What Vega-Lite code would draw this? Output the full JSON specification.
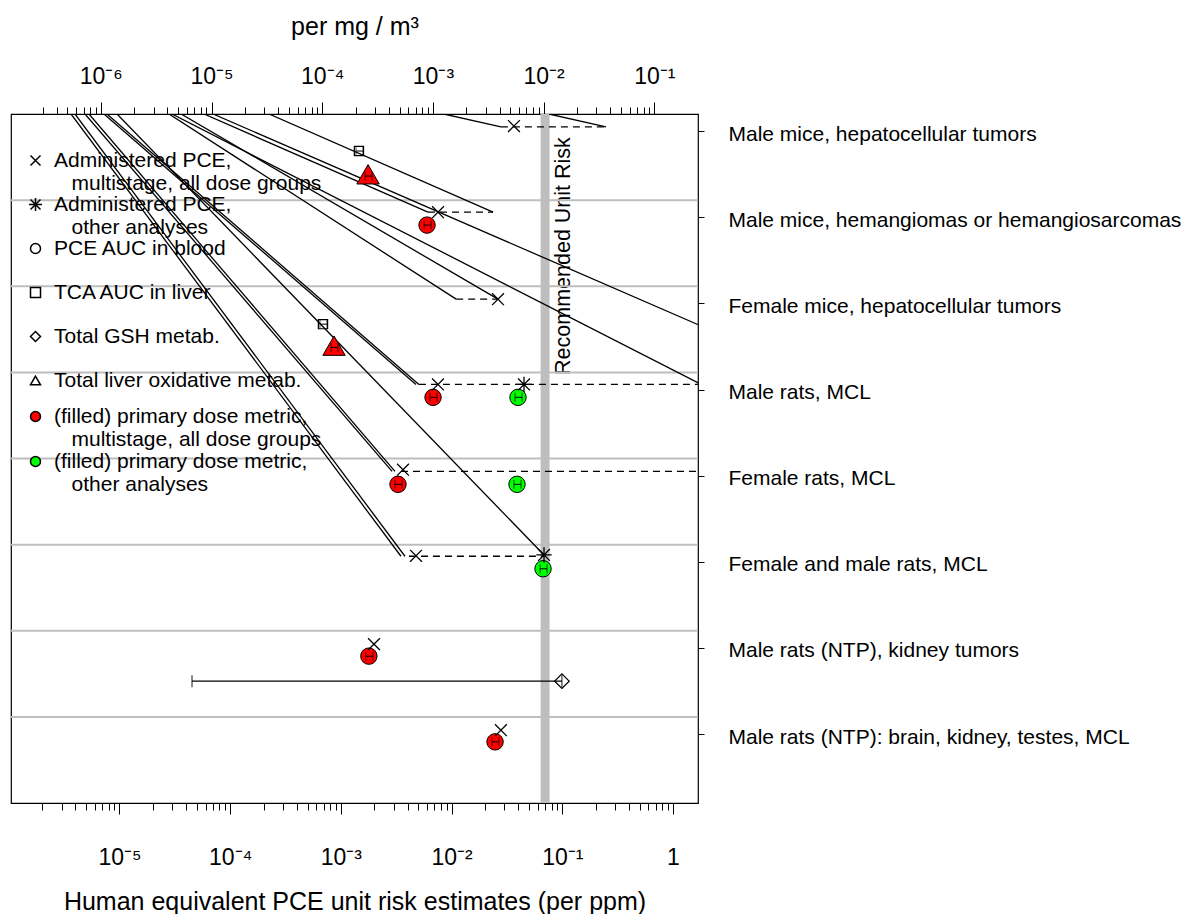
{
  "$schema": "https://vega.github.io/schema/vega-lite/v6.json",
  "width": 687,
  "height": 689,
  "padding": {"left": 10, "top": 14, "right": 0, "bottom": 0},
  "background": "white",
  "config": {
    "view": {"stroke": "black", "strokeWidth": 1.2},
    "font": "Liberation Sans",
    "axis": {"labelFont": "Liberation Sans", "titleFont": "Liberation Sans", "labelColor": "black", "titleColor": "black", "tickColor": "black", "tickWidth": 1, "domain": false, "grid": false, "titleFontWeight": "normal", "labelLimit": 600},
    "legend": {"labelFont": "Liberation Sans", "labelFontSize": 21, "labelColor": "black", "labelLimit": 500, "padding": 0, "titlePadding": 0}
  },
  "datasets": {
    "grid": [{"r": 1}, {"r": 2}, {"r": 3}, {"r": 4}, {"r": 5}, {"r": 6}, {"r": 7}],
    "ur": [{"ur": 0.0103, "label": "Recommended Unit Risk"}],
    "conn": [
      {"id": "c1", "v": 0.00853, "r": 0}, {"id": "c1", "v": 0.0279, "r": 0.15},
      {"id": "c2", "v": 0.0759, "r": 0}, {"id": "c2", "v": 0.248, "r": 0.15},
      {"id": "c3", "v": 0.000224, "r": 0}, {"id": "c3", "v": 0.0237, "r": 1.14},
      {"id": "c4", "v": 0.000058, "r": 0}, {"id": "c4", "v": 0.00612, "r": 1.14},
      {"id": "c5", "v": 0.00007, "r": 0}, {"id": "c5", "v": 1900, "r": 4.15},
      {"id": "c6", "v": 0.0000298, "r": 0}, {"id": "c6", "v": 1.8, "r": 3.14},
      {"id": "c7", "v": 0.000028, "r": 0}, {"id": "c7", "v": 0.011, "r": 2.15},
      {"id": "c8", "v": 0.000036, "r": 0}, {"id": "c8", "v": 0.02626, "r": 2.15},
      {"id": "l1a", "v": 0.00000365, "r": 0}, {"id": "l1a", "v": 0.00349, "r": 5.135},
      {"id": "l1b", "v": 0.00000396, "r": 0}, {"id": "l1b", "v": 0.00379, "r": 5.135},
      {"id": "l2a", "v": 0.00000488, "r": 0}, {"id": "l2a", "v": 0.0029, "r": 4.15},
      {"id": "l2b", "v": 0.0000053, "r": 0}, {"id": "l2b", "v": 0.00308, "r": 4.15},
      {"id": "l3a", "v": 0.00000724, "r": 0}, {"id": "l3a", "v": 0.00477, "r": 3.14},
      {"id": "l3b", "v": 0.0000077, "r": 0}, {"id": "l3b", "v": 0.00507, "r": 3.14},
      {"id": "l4", "v": 0.0000095, "r": 0}, {"id": "l4", "v": 0.0684, "r": 5.12}
    ],
    "dashed": [
      {"lo": 0.0279, "hi": 0.248, "r": 0.15},
      {"lo": 0.00612, "hi": 0.0237, "r": 1.14},
      {"lo": 0.011, "hi": 0.0263, "r": 2.15},
      {"lo": 0.00507, "hi": 1.8, "r": 3.14},
      {"lo": 0.00349, "hi": 1900, "r": 4.15},
      {"lo": 0.00412, "hi": 0.0684, "r": 5.135}
    ],
    "errbar": [{"lo": 0.0000452, "hi": 0.0993, "r": 6.585}],
    "ci": [
      {"lo": 0.001368, "hi": 0.001583, "r": 0.43},
      {"lo": 0.001654, "hi": 0.001913, "r": 0.72},
      {"lo": 0.00564, "hi": 0.00652, "r": 1.29},
      {"lo": 0.000647, "hi": 0.000749, "r": 2.44},
      {"lo": 0.000815, "hi": 0.000942, "r": 2.71},
      {"lo": 0.00639, "hi": 0.00739, "r": 3.29},
      {"lo": 0.0374, "hi": 0.0433, "r": 3.29},
      {"lo": 0.00308, "hi": 0.00357, "r": 4.30},
      {"lo": 0.0366, "hi": 0.0424, "r": 4.30},
      {"lo": 0.063, "hi": 0.0728, "r": 5.28},
      {"lo": 0.00168, "hi": 0.00195, "r": 6.295},
      {"lo": 0.0232, "hi": 0.0268, "r": 7.29}
    ],
    "squares": [
      {"v": 0.001456, "r": 0.43, "metric": "liver"},
      {"v": 0.000689, "r": 2.44, "metric": "liver"}
    ],
    "diamonds": [
      {"v": 0.0993, "r": 6.585, "metric": "gsh"}
    ],
    "circles": [
      {"v": 0.006, "r": 1.29, "metric": "blood", "analysis": "ms"},
      {"v": 0.0068, "r": 3.29, "metric": "blood", "analysis": "ms"},
      {"v": 0.0398, "r": 3.29, "metric": "blood", "analysis": "other"},
      {"v": 0.00328, "r": 4.30, "metric": "blood", "analysis": "ms"},
      {"v": 0.039, "r": 4.30, "metric": "blood", "analysis": "other"},
      {"v": 0.067, "r": 5.28, "metric": "blood", "analysis": "other"},
      {"v": 0.00179, "r": 6.295, "metric": "blood", "analysis": "ms"},
      {"v": 0.0247, "r": 7.29, "metric": "blood", "analysis": "ms"}
    ],
    "triangles": [
      {"v": 0.00176, "r": 0.70, "metric": "oxid", "analysis": "ms"},
      {"v": 0.000867, "r": 2.69, "metric": "oxid", "analysis": "ms"}
    ],
    "admin": [
      {"v": 0.0366, "r": 0.14, "metric": "ms"},
      {"v": 0.00754, "r": 1.14, "metric": "ms"},
      {"v": 0.02626, "r": 2.15, "metric": "ms"},
      {"v": 0.00754, "r": 3.14, "metric": "ms"},
      {"v": 0.00364, "r": 4.13, "metric": "ms"},
      {"v": 0.00477, "r": 5.13, "metric": "ms"},
      {"v": 0.00199, "r": 6.155, "metric": "ms"},
      {"v": 0.0279, "r": 7.155, "metric": "ms"},
      {"v": 0.0451, "r": 3.14, "metric": "oth"},
      {"v": 0.0684, "r": 5.12, "metric": "oth"}
    ]
  },
  "layer": [
    {
      "layer": [
        {
          "data": {"name": "ur"},
          "mark": {"type": "rule", "color": "#BEBEBE", "strokeWidth": 9},
          "encoding": {
            "x": {"field": "ur", "type": "quantitative",
              "scale": {"type": "log", "domain": [1.544e-7, 0.2479], "nice": false},
              "axis": {
                "orient": "top",
                "values": [3e-7,4e-7,5e-7,6e-7,7e-7,8e-7,9e-7,1e-6,2e-6,3e-6,4e-6,5e-6,6e-6,7e-6,8e-6,9e-6,1e-5,2e-5,3e-5,4e-5,5e-5,6e-5,7e-5,8e-5,9e-5,1e-4,2e-4,3e-4,4e-4,5e-4,6e-4,7e-4,8e-4,9e-4,1e-3,2e-3,3e-3,4e-3,5e-3,6e-3,7e-3,8e-3,9e-3,1e-2,2e-2,3e-2,4e-2,5e-2,6e-2,7e-2,8e-2,9e-2,1e-1],
                "labelExpr": "abs(log(datum.value)/LN10 - round(log(datum.value)/LN10)) > 0.001 ? '' : (round(log(datum.value)/LN10) == 0 ? '1' : '10⁻' + ['⁰','¹','²','³','⁴','⁵','⁶','⁷','⁸'][-round(log(datum.value)/LN10)])",
                "tickSize": {"condition": {"test": "abs(log(datum.value)/LN10 - round(log(datum.value)/LN10)) < 0.001", "value": 12}, "value": 7},
                "labelFontSize": 23,
                "labelPadding": 14,
                "labelOverlap": false,
                "labelFlush": false,
                "title": "per mg / m³",
                "titleFontSize": 25,
                "titlePadding": 26
              }
            }
          }
        },
        {
          "data": {"name": "ur"},
          "mark": {"type": "text", "angle": 270, "align": "left", "baseline": "top", "dy": 8, "fontSize": 21.5, "font": "Liberation Sans", "color": "black"},
          "encoding": {
            "x": {"field": "ur", "type": "quantitative"},
            "y": {"datum": 3.03, "type": "quantitative", "scale": {"domain": [0, 8], "reverse": true, "nice": false, "zero": false}},
            "text": {"field": "label"}
          }
        }
      ]
    },
    {
      "layer": [
        {
          "data": {"name": "grid"},
          "mark": {"type": "rule", "color": "#BEBEBE", "strokeWidth": 2},
          "encoding": {
            "y": {"field": "r", "type": "quantitative",
              "scale": {"domain": [0, 8], "reverse": true, "nice": false, "zero": false},
              "axis": {
                "orient": "right",
                "values": [0.2, 1.2, 2.2, 3.2, 4.2, 5.2, 6.2, 7.2],
                "labelExpr": "['Male mice, hepatocellular tumors','Male mice, hemangiomas or hemangiosarcomas','Female mice, hepatocellular tumors','Male rats, MCL','Female rats, MCL','Female and male rats, MCL','Male rats (NTP), kidney tumors','Male rats (NTP): brain, kidney, testes, MCL'][floor(datum.value)]",
                "tickSize": 6,
                "labelPadding": 24,
                "labelFontSize": 21,
                "labelOffset": 3,
                "labelLimit": 600,
                "labelOverlap": false,
                "labelFlush": false,
                "title": null
              }
            }
          }
        },
        {
          "data": {"name": "conn"},
          "mark": {"type": "line", "color": "black", "strokeWidth": 1.3, "clip": true},
          "encoding": {
            "x": {"field": "v", "type": "quantitative",
              "scale": {"type": "log", "domain": [1.047e-6, 1.683], "nice": false},
              "axis": {
                "orient": "bottom",
                "values": [2e-6,3e-6,4e-6,5e-6,6e-6,7e-6,8e-6,9e-6,1e-5,2e-5,3e-5,4e-5,5e-5,6e-5,7e-5,8e-5,9e-5,1e-4,2e-4,3e-4,4e-4,5e-4,6e-4,7e-4,8e-4,9e-4,1e-3,2e-3,3e-3,4e-3,5e-3,6e-3,7e-3,8e-3,9e-3,1e-2,2e-2,3e-2,4e-2,5e-2,6e-2,7e-2,8e-2,9e-2,1e-1,2e-1,3e-1,4e-1,5e-1,6e-1,7e-1,8e-1,9e-1,1],
                "labelExpr": "abs(log(datum.value)/LN10 - round(log(datum.value)/LN10)) > 0.001 ? '' : (round(log(datum.value)/LN10) == 0 ? '1' : '10⁻' + ['⁰','¹','²','³','⁴','⁵','⁶','⁷','⁸'][-round(log(datum.value)/LN10)])",
                "tickSize": {"condition": {"test": "abs(log(datum.value)/LN10 - round(log(datum.value)/LN10)) < 0.001", "value": 11}, "value": 7},
                "labelFontSize": 23,
                "labelPadding": 32,
                "labelOverlap": false,
                "labelFlush": false,
                "title": "Human equivalent PCE unit risk estimates (per ppm)",
                "titleFontSize": 25,
                "titlePadding": 20
              }
            },
            "y": {"field": "r", "type": "quantitative"},
            "detail": {"field": "id"}
          }
        },
        {
          "data": {"name": "dashed"},
          "mark": {"type": "rule", "color": "black", "strokeWidth": 1.3, "strokeDash": [7, 5], "clip": true},
          "encoding": {
            "x": {"field": "lo", "type": "quantitative"},
            "x2": {"field": "hi"},
            "y": {"field": "r", "type": "quantitative"}
          }
        },
        {
          "data": {"name": "errbar"},
          "mark": {"type": "rule", "color": "black", "strokeWidth": 1.3},
          "encoding": {
            "x": {"field": "lo", "type": "quantitative"},
            "x2": {"field": "hi"},
            "y": {"field": "r", "type": "quantitative"}
          }
        },
        {
          "data": {"name": "errbar"},
          "mark": {"type": "tick", "orient": "vertical", "color": "black", "size": 12, "thickness": 1.3},
          "encoding": {
            "x": {"field": "lo", "type": "quantitative"},
            "y": {"field": "r", "type": "quantitative"}
          }
        },
        {
          "data": {"name": "errbar"},
          "mark": {"type": "tick", "orient": "vertical", "color": "black", "size": 12, "thickness": 1.3},
          "encoding": {
            "x": {"field": "hi", "type": "quantitative"},
            "y": {"field": "r", "type": "quantitative"}
          }
        },
        {
          "data": {"name": "squares"},
          "mark": {"type": "point", "filled": false, "fill": "transparent", "stroke": "black", "strokeWidth": 1.2, "size": 85, "opacity": 1},
          "encoding": {
            "x": {"field": "v", "type": "quantitative"},
            "y": {"field": "r", "type": "quantitative"},
            "shape": {"field": "metric", "type": "nominal"}
          }
        },
        {
          "data": {"name": "diamonds"},
          "mark": {"type": "point", "filled": false, "fill": "transparent", "stroke": "black", "strokeWidth": 1.3, "size": 210, "opacity": 1},
          "encoding": {
            "x": {"field": "v", "type": "quantitative"},
            "y": {"field": "r", "type": "quantitative"},
            "shape": {"field": "metric", "type": "nominal"}
          }
        },
        {
          "data": {"name": "circles"},
          "mark": {"type": "point", "filled": true, "stroke": "black", "strokeWidth": 1, "size": 270, "opacity": 1},
          "encoding": {
            "x": {"field": "v", "type": "quantitative"},
            "y": {"field": "r", "type": "quantitative"},
            "shape": {"field": "metric", "type": "nominal"},
            "fill": {"field": "analysis", "type": "nominal",
              "scale": {"domain": ["ms", "other"], "range": ["#FF0000", "#00FF00"]},
              "legend": {
                "orient": "none", "legendX": 14, "legendY": 292, "title": null,
                "labelOffset": 8, "rowPadding": 0,
                "labelExpr": "datum.value == 'ms' ? ['(filled) primary dose metric,', '\u200b\u00a0\u00a0\u00a0multistage, all dose groups'] : ['(filled) primary dose metric,', '\u200b\u00a0\u00a0\u00a0other analyses']",
                "encode": {"symbols": {"update": {"shape": {"value": "square"}, "stroke": {"value": "transparent"}, "size": {"value": 64}, "opacity": {"value": 1}}}}
              }
            }
          }
        },
        {
          "data": {"name": "triangles"},
          "mark": {"type": "point", "filled": true, "stroke": "black", "strokeWidth": 1, "size": 500, "opacity": 1},
          "encoding": {
            "x": {"field": "v", "type": "quantitative"},
            "y": {"field": "r", "type": "quantitative"},
            "shape": {"field": "metric", "type": "nominal"},
            "fill": {"field": "analysis", "type": "nominal"}
          }
        },
        {
          "data": {"name": "ci"},
          "mark": {"type": "rule", "color": "black", "strokeWidth": 1},
          "encoding": {
            "x": {"field": "lo", "type": "quantitative"},
            "x2": {"field": "hi"},
            "y": {"field": "r", "type": "quantitative"}
          }
        },
        {
          "data": {"name": "ci"},
          "mark": {"type": "tick", "orient": "vertical", "color": "black", "size": 9, "thickness": 1},
          "encoding": {
            "x": {"field": "lo", "type": "quantitative"},
            "y": {"field": "r", "type": "quantitative"}
          }
        },
        {
          "data": {"name": "ci"},
          "mark": {"type": "tick", "orient": "vertical", "color": "black", "size": 9, "thickness": 1},
          "encoding": {
            "x": {"field": "hi", "type": "quantitative"},
            "y": {"field": "r", "type": "quantitative"}
          }
        },
        {
          "data": {"name": "admin"},
          "mark": {"type": "point", "filled": false, "stroke": "black", "strokeWidth": 1.3, "size": 140, "opacity": 1},
          "encoding": {
            "x": {"field": "v", "type": "quantitative"},
            "y": {"field": "r", "type": "quantitative"},
            "shape": {"field": "metric", "type": "nominal",
              "scale": {"domain": ["ms", "oth", "blood", "liver", "gsh", "oxid"],
                "range": ["M-1,-1L1,1M-1,1L1,-1", "M-1,-1L1,1M-1,1L1,-1M0,-1.3L0,1.3M-1.3,0L1.3,0", "circle", "square", "diamond", "triangle-up"]},
              "legend": {
                "orient": "none", "legendX": 14, "legendY": 36, "title": null,
                "labelOffset": 8, "rowPadding": -2,
                "labelExpr": "datum.value == 'ms' ? ['Administered PCE,', '\u200b\u00a0\u00a0\u00a0multistage, all dose groups'] : datum.value == 'oth' ? ['Administered PCE,', '\u200b\u00a0\u00a0\u00a0other analyses'] : datum.value == 'blood' ? ['PCE AUC in blood', ''] : datum.value == 'liver' ? ['TCA AUC in liver', ''] : datum.value == 'gsh' ? ['Total GSH metab.', ''] : ['Total liver oxidative metab.', '']",
                "encode": {"symbols": {"update": {"fill": {"value": "transparent"}, "stroke": {"value": "black"}, "strokeWidth": {"value": 1}, "size": {"value": 70}, "opacity": {"value": 1}}}}
              }
            }
          }
        }
      ]
    }
  ],
  "resolve": {"scale": {"x": "independent"}}
}
